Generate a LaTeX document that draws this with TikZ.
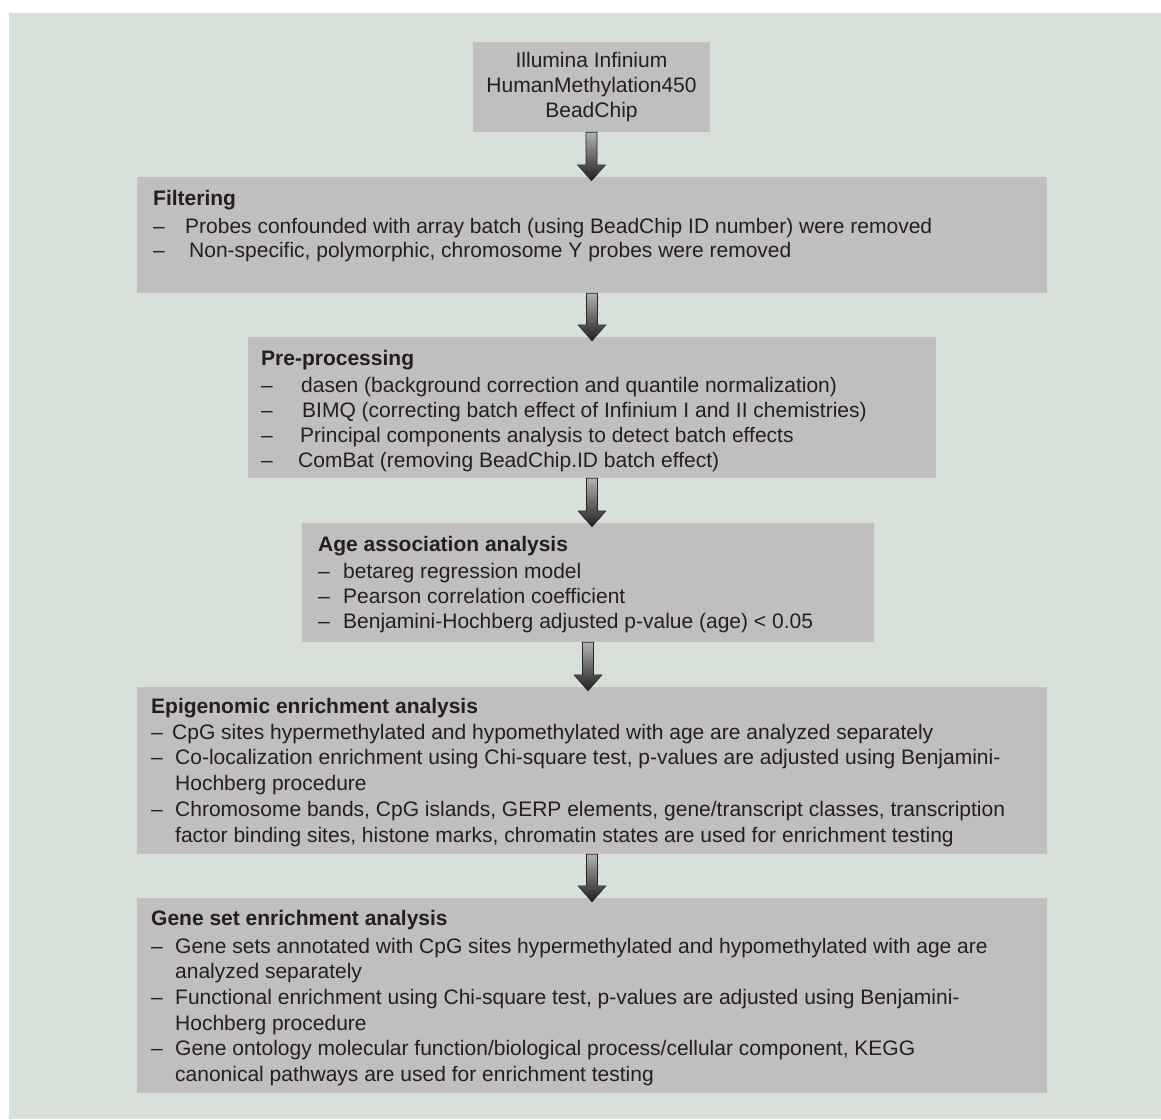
\documentclass[tikz,border=0pt]{standalone}
\usepackage{fontspec}
\setmainfont{Liberation Sans}
\usepackage{xcolor}
\usepackage{tikz}
\usetikzlibrary{calc}

\definecolor{panelbg}{HTML}{D6E0D9}
\definecolor{boxgray}{HTML}{C1BEBF}
\definecolor{inkgray}{HTML}{231F20}

% strut that fixes the top of the first text line
\newcommand{\topstrut}{\rule{0pt}{16pt}}
% block arrow from the bottom of one box to the top of the next
\newcommand{\flowarrow}[2]{%
    \shade[arrowshade] ($(#1.south)+(-5.5,0)$)
        -- ($(#1.south |- #2.north)+(-5.5,-12)$)
        -- ($(#1.south |- #2.north)+(-14,-12)$)
        -- ($(#1.south |- #2.north)+(0,4)$)
        -- ($(#1.south |- #2.north)+(14,-12)$)
        -- ($(#1.south |- #2.north)+(5.5,-12)$)
        -- ($(#1.south)+(5.5,0)$) -- cycle;}

\begin{document}
\begin{tikzpicture}[x=1pt, y=-1pt,
    stagebox/.style={rectangle, fill=boxgray, draw=none, inner sep=0pt},
    stagetext/.style={anchor=north west, inner sep=0pt, align=left, text=inkgray},
    arrowshade/.style={top color=black!30, bottom color=black!88, draw=black!85, line width=0.6pt}]
    \useasboundingbox (0,0) rectangle (1161,1119);
    \fill[panelbg] (9,13) rectangle (1161,1119);

    % Input chip
    \node[stagebox, minimum width=237pt, minimum height=90pt, align=center, text=inkgray,
          font=\fontsize{21}{25}\selectfont] (chip) at (591.5,87)
          {Illumina Infinium\\HumanMethylation450\\BeadChip};

    % Filtering
    \node[stagebox, minimum width=910pt, minimum height=116pt] (filt) at (592,235) {};
    \node[stagetext, font=\fontsize{21}{24}\selectfont] (filtT) at (153,189)
        {\topstrut\textbf{Filtering}\\[4pt]
         \makebox[32pt][l]{–}Probes confounded with array batch (using BeadChip ID number) were removed\\
         \makebox[36pt][l]{–}Non-specific, polymorphic, chromosome Y probes were removed};

    % Pre-processing
    \node[stagebox, minimum width=688pt, minimum height=141pt] (prep) at (592,407.5) {};
    \node[stagetext, font=\fontsize{21}{25.3}\selectfont] (prepT) at (261,349)
        {\topstrut\textbf{Pre-processing}\\[1.5pt]
         \makebox[40pt][l]{–}dasen (background correction and quantile normalization)\\
         \makebox[41pt][l]{–}BIMQ (correcting batch effect of Infinium I and II chemistries)\\
         \makebox[39pt][l]{–}Principal components analysis to detect batch effects\\
         \makebox[37pt][l]{–}ComBat (removing BeadChip.ID batch effect)};

    % Age association
    \node[stagebox, minimum width=572pt, minimum height=119pt] (age) at (588,582.5) {};
    \node[stagetext, font=\fontsize{21}{25}\selectfont] (ageT) at (318,535)
        {\topstrut\textbf{Age association analysis}\\[2pt]
         \makebox[25pt][l]{–}betareg regression model\\
         \makebox[25pt][l]{–}Pearson correlation coefficient\\
         \makebox[25pt][l]{–}Benjamini-Hochberg adjusted p-value (age) {\textless} 0.05};

    % Epigenomic enrichment
    \node[stagebox, minimum width=910pt, minimum height=167pt] (epi) at (592,770.5) {};
    \node[stagetext, font=\fontsize{21}{25.8}\selectfont] (epiT) at (151,697)
        {\topstrut\textbf{Epigenomic enrichment analysis}\\
         \makebox[21pt][l]{–}CpG sites hypermethylated and hypomethylated with age are analyzed separately\\
         \makebox[24pt][l]{–}Co-localization enrichment using Chi-square test, p-values are adjusted using Benjamini-\\
         \hspace*{24pt}Hochberg procedure\\
         \makebox[24pt][l]{–}Chromosome bands, CpG islands, GERP elements, gene/transcript classes, transcription\\
         \hspace*{24pt}factor binding sites, histone marks, chromatin states are used for enrichment testing};

    % Gene set enrichment
    \node[stagebox, minimum width=910pt, minimum height=195pt] (gene) at (592,995.5) {};
    \node[stagetext, font=\fontsize{21}{25.6}\selectfont] (geneT) at (151,909)
        {\topstrut\textbf{Gene set enrichment analysis}\\[2.4pt]
         \makebox[24pt][l]{–}Gene sets annotated with CpG sites hypermethylated and hypomethylated with age are\\
         \hspace*{24pt}analyzed separately\\
         \makebox[24pt][l]{–}Functional enrichment using Chi-square test, p-values are adjusted using Benjamini-\\
         \hspace*{24pt}Hochberg procedure\\
         \makebox[24pt][l]{–}Gene ontology molecular function/biological process/cellular component, KEGG\\
         \hspace*{24pt}canonical pathways are used for enrichment testing};

    % Arrows
    \flowarrow{chip}{filt}
    \flowarrow{filt}{prep}
    \flowarrow{prep}{age}
    \flowarrow{age}{epi}
    \flowarrow{epi}{gene}
\end{tikzpicture}
\end{document}
